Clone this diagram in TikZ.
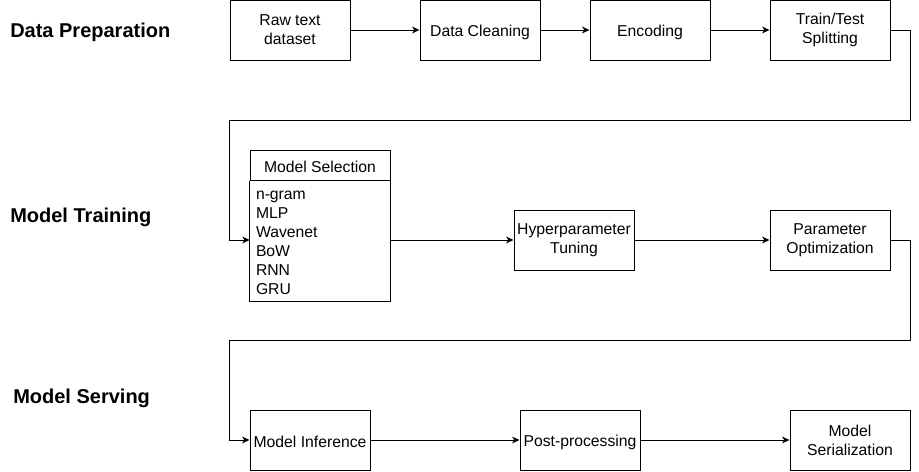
\documentclass[tikz,border=0pt]{standalone}
\usepackage{fontspec}
\setmainfont{Liberation Sans}
\usetikzlibrary{arrows.meta}

\begin{document}
\begin{tikzpicture}[x=0.75pt,y=0.75pt,yscale=-1,xscale=1,
  box/.style={draw, line width=0.75pt, minimum width=90pt, minimum height=45pt, inner sep=1pt, align=center, font=\fontsize{11.8pt}{14.2pt}\selectfont, execute at begin node={\rule{0pt}{11.6pt}}},
  listbox/.style={minimum width=105pt, minimum height=90pt, text width=96pt, inner xsep=4.5pt, inner ysep=1pt, align=left, font=\fontsize{11.8pt}{14.2pt}\selectfont, execute at begin node={\rule{0pt}{9.1pt}}},
  stage/.style={anchor=west, inner sep=0pt, font=\fontsize{15pt}{18pt}\selectfont\bfseries},
  flow/.style={line width=0.75pt, -{Stealth[length=5.5pt,width=5pt,inset=1.5pt]}}]
\useasboundingbox (0,0) rectangle (919,471);

% Text Node
\node (prep) [stage] at (10,32) {Data Preparation};
% Text Node
\node (train) [stage] at (10,217) {Model Training};
% Text Node
\node (serve) [stage] at (13,398) {Model Serving};

%Shape: Rectangle
\node (raw) [box] at (290,30) {Raw text\\dataset};
%Shape: Rectangle
\node (clean) [box] at (480,30) {Data Cleaning};
%Shape: Rectangle
\node (enc) [box] at (650,30) {Encoding};
%Shape: Rectangle
\node (split) [box] at (830,30) {Train/Test\\Splitting};

%Shape: Rectangle
\node (selhead) [box, minimum width=105pt, minimum height=22.5pt] at (320,165) {Model Selection};
%Shape: Rectangle
\node (sellist) [listbox, anchor=north] at (selhead.south) {n-gram\\MLP\\Wavenet\\BoW\\RNN\\GRU};
\draw [line width=0.75pt] (selhead.south west) |- (sellist.south) -| (selhead.south east);
%Shape: Rectangle
\node (tune) [box] at (574,240) {Hyperparameter\\Tuning};
%Shape: Rectangle
\node (opt) [box] at (830,240) {Parameter\\Optimization};

%Shape: Rectangle
\node (infer) [box] at (310,440) {Model Inference};
%Shape: Rectangle
\node (post) [box] at (580,440) {Post-processing};
%Shape: Rectangle
\node (serial) [box] at (850,440) {Model\\Serialization};

%Straight Lines
\draw [flow] (raw) -- (clean);
\draw [flow] (clean) -- (enc);
\draw [flow] (enc) -- (split);
\draw [flow] (split.east) -- ++(20,0) -- ++(0,90) -| ([xshift=-15pt]tune.west -| sellist.west) -- (tune.west -| sellist.west);

%Straight Lines
\draw [flow] (tune.west -| sellist.east) -- (tune.west);
\draw [flow] (tune) -- (opt);
\draw [flow] (opt.east) -- ++(20,0) -- ++(0,100) -| ([xshift=-15pt]infer.west) -- (infer.west);

%Straight Lines
\draw [flow] (infer) -- (post);
\draw [flow] (post) -- (serial);

\end{tikzpicture}
\end{document}
